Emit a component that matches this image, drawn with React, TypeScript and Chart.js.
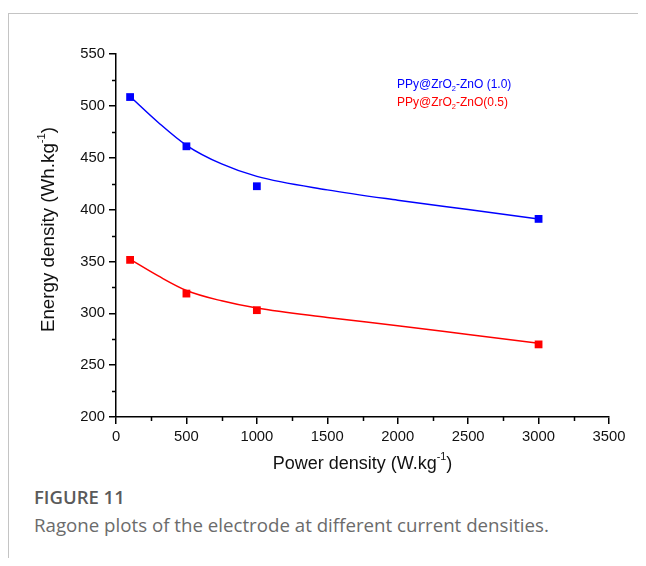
import React, { useEffect, useRef } from "react";
import { Chart, registerables } from "chart.js";

Chart.register(...registerables);

// ---- data ----
const powerDensity = [100, 500, 1000, 3000];
const energyZnO10 = [508.5, 461, 422.5, 391];
const energyZnO05 = [351.5, 319, 303, 270];

// fitted curves
const fitPower = [100, 300, 500, 750, 1000, 1500, 2000, 2500, 3000];
const fitZnO10 = [509, 484, 462, 444, 432, 419, 409, 400, 391];
const fitZnO05 = [352, 336, 322, 312, 305, 296, 288, 279.5, 271];

const xMin = 0;
const xMax = 3500;
const xStep = 500;
const yMin = 200;
const yMax = 550;
const yStep = 50;

const seriesNames = ["PPy@ZrO₂-ZnO (1.0)", "PPy@ZrO₂-ZnO(0.5)"];
const seriesColors = ["#0000ff", "#ff0000"];
const xTitle = ["Power density (W.kg", "-1", ")"];
const yTitle = ["Energy density (Wh.kg", "-1", ")"];
const captionTitle = "FIGURE 11";
const captionText = "Ragone plots of the electrode at different current densities.";

const FONT = "'Liberation Sans', Arial, sans-serif";

type Seg = { text: string; size: number; dy: number };

function drawRich(ctx: CanvasRenderingContext2D, segs: Seg[], x: number, y: number, color: string, align: "left" | "center") {
  ctx.save();
  ctx.fillStyle = color;
  ctx.textBaseline = "middle";
  ctx.textAlign = "left";
  let total = 0;
  for (const s of segs) {
    ctx.font = `${s.size}px ${FONT}`;
    total += ctx.measureText(s.text).width;
  }
  let cx = align === "center" ? x - total / 2 : x;
  for (const s of segs) {
    ctx.font = `${s.size}px ${FONT}`;
    ctx.fillText(s.text, cx, y + s.dy);
    cx += ctx.measureText(s.text).width;
  }
  ctx.restore();
}

function subSegs(label: string, size: number): Seg[] {
  const parts = label.split("₂");
  const out: Seg[] = [];
  parts.forEach((p, i) => {
    if (i > 0) out.push({ text: "2", size: size * 0.62, dy: size * 0.3 });
    if (p) out.push({ text: p, size, dy: 0 });
  });
  return out;
}

function supSegs(parts: string[], size: number): Seg[] {
  return [
    { text: parts[0], size, dy: 0 },
    { text: parts[1], size: size * 0.6, dy: -size * 0.38 },
    { text: parts[2], size, dy: 0 },
  ];
}

const decorPlugin = {
  id: "decor",
  afterDraw(chart: any) {
    const ctx: CanvasRenderingContext2D = chart.ctx;
    const xs = chart.scales.x;
    const ys = chart.scales.y;
    const area = chart.chartArea;
    // minor ticks
    ctx.save();
    ctx.strokeStyle = "#000";
    ctx.lineWidth = 1.5;
    ctx.beginPath();
    for (let v = xMin + xStep / 2; v < xMax; v += xStep) {
      const px = Math.round(xs.getPixelForValue(v)) + 0.5;
      ctx.moveTo(px, area.bottom);
      ctx.lineTo(px, area.bottom + 4);
    }
    for (let v = yMin + yStep / 2; v < yMax; v += yStep) {
      const py = Math.round(ys.getPixelForValue(v)) + 0.5;
      ctx.moveTo(area.left, py);
      ctx.lineTo(area.left - 4, py);
    }
    ctx.stroke();
    ctx.restore();

    // legend (text only)
    seriesNames.forEach((name, i) => {
      drawRich(ctx, subSegs(name, 12), 388, 71 + i * 18, seriesColors[i], "left");
    });

    // axis titles
    drawRich(ctx, supSegs(xTitle, 18), (area.left + area.right) / 2, 450, "#111", "center");
    ctx.save();
    ctx.translate(40, (area.top + area.bottom) / 2 - 6);
    ctx.rotate(-Math.PI / 2);
    drawRich(ctx, supSegs(yTitle, 18.8), 0, 0, "#111", "center");
    ctx.restore();
  },
};

export default function App() {
  const ref = useRef<HTMLCanvasElement>(null);
  useEffect(() => {
    if (!ref.current) return;
    const pts = (xs: number[], ys: number[]) => xs.map((x, i) => ({ x, y: ys[i] }));
    const chart = new Chart(ref.current, {
      type: "scatter",
      data: {
        datasets: [
          {
            label: seriesNames[0] + " fit",
            data: pts(fitPower, fitZnO10),
            showLine: true,
            borderColor: seriesColors[0],
            borderWidth: 1.5,
            pointRadius: 0,
            cubicInterpolationMode: "monotone",
            fill: false,
          },
          {
            label: seriesNames[1] + " fit",
            data: pts(fitPower, fitZnO05),
            showLine: true,
            borderColor: seriesColors[1],
            borderWidth: 1.5,
            pointRadius: 0,
            cubicInterpolationMode: "monotone",
            fill: false,
          },
          {
            label: seriesNames[0],
            data: pts(powerDensity, energyZnO10),
            showLine: false,
            pointStyle: "rect",
            pointRadius: 5.5,
            backgroundColor: seriesColors[0],
            borderColor: seriesColors[0],
            borderWidth: 0,
          },
          {
            label: seriesNames[1],
            data: pts(powerDensity, energyZnO05),
            showLine: false,
            pointStyle: "rect",
            pointRadius: 5.5,
            backgroundColor: seriesColors[1],
            borderColor: seriesColors[1],
            borderWidth: 0,
          },
        ],
      },
      options: {
        responsive: false,
        animation: false,
        devicePixelRatio: 1,
        layout: { padding: { top: 40, right: 29, left: 0, bottom: 0 } },
        plugins: { legend: { display: false }, tooltip: { enabled: false }, title: { display: false } },
        scales: {
          x: {
            type: "linear",
            min: xMin,
            max: xMax,
            afterFit: (s: any) => {
              s.height = 67;
            },
            ticks: {
              stepSize: xStep,
              color: "#111",
              font: { family: FONT, size: 14.8 },
              padding: 4,
              maxRotation: 0,
              callback: (v: any) => String(v),
            },
            grid: {
              display: true,
              drawOnChartArea: false,
              drawTicks: true,
              tickLength: 7,
              color: "#000",
              lineWidth: 1.5,
            },
            border: { display: true, color: "#000", width: 1.5 },
          },
          y: {
            type: "linear",
            min: yMin,
            max: yMax,
            afterFit: (s: any) => {
              s.width = 107;
            },
            ticks: {
              stepSize: yStep,
              color: "#111",
              font: { family: FONT, size: 14.8 },
              padding: 4,
              callback: (v: any) => String(v),
            },
            grid: {
              display: true,
              drawOnChartArea: false,
              drawTicks: true,
              tickLength: 7,
              color: "#000",
              lineWidth: 1.5,
            },
            border: { display: true, color: "#000", width: 1.5 },
          },
        },
      },
      plugins: [decorPlugin],
    } as any);
    return () => chart.destroy();
  }, []);

  return (
    <div
      style={{
        position: "relative",
        marginTop: 5,
        width: 638,
        height: 545,
        borderTop: "1px solid #c4c4c4",
        borderLeft: "1px solid #c4c4c4",
        boxSizing: "border-box",
      }}
    >
      <canvas ref={ref} width={629} height={470} style={{ position: "absolute", left: 0, top: 0, width: 629, height: 470 }} />
      <div
        style={{
          position: "absolute",
          left: 25,
          top: 472,
          fontFamily: "'Open Sans', sans-serif",
          fontWeight: 600,
          fontSize: 18.5,
          lineHeight: "22px",
          color: "#5a5a5a",
          whiteSpace: "nowrap",
        }}
      >
        {captionTitle}
      </div>
      <div
        style={{
          position: "absolute",
          left: 25,
          top: 500,
          fontFamily: "'Open Sans', sans-serif",
          fontWeight: 400,
          fontSize: 18.7,
          lineHeight: "22px",
          color: "#6b6b6b",
          whiteSpace: "nowrap",
        }}
      >
        {captionText}
      </div>
    </div>
  );
}
